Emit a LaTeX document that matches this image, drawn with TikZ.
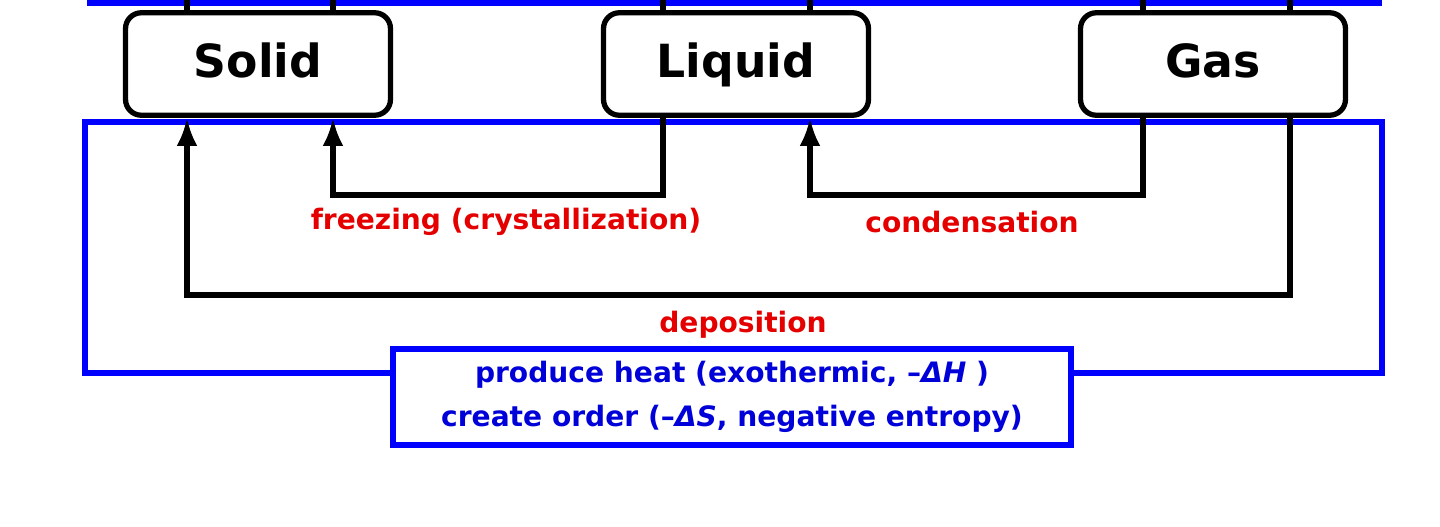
\documentclass[tikz,border=0pt]{standalone}
\usepackage{fontspec}
\setmainfont{DejaVu Sans}
\tikzset{
  phase/.style={draw, line width=3pt, rounded corners=9pt, minimum width=5.3cm, minimum height=2.05cm, text height=0.55cm, text depth=0.0cm, font=\bfseries\fontsize{26}{30}\selectfont},
  flow/.style={line width=3pt, -{Latex[length=16pt,width=12pt]}},
  lbl/.style={text=red!90!black, font=\bfseries\fontsize{16}{18}\selectfont},
  frame/.style={draw=blue, line width=3pt}
}
\usetikzlibrary{arrows.meta}
\begin{document}
\begin{tikzpicture}[x=0.02cm,y=-0.02cm]
  \useasboundingbox (0,0) rectangle (1440,527);
  % cut-off upper frame
  \draw[frame] (87,3) -- (1382,3);
  \foreach \x in {187,333,663,810,1143,1290}
    \draw[line width=3pt] (\x,14) -- (\x,0);
  % phases
  \node[phase] (solid) at (258,64) {Solid};
  \node[phase] (liquid) at (736,64) {Liquid};
  \node[phase] (gas) at (1213,64) {Gas};
  % lower frame
  \draw[frame] (85,122) rectangle (1382,373);
  % transitions
  \coordinate (f1) at (663,195);
  \coordinate (f2) at (333,195);
  \draw[flow] (liquid.south -| f1) -- (f1) -- (f2) -- (solid.south -| f2);
  \coordinate (c1) at (1143,195);
  \coordinate (c2) at (810,195);
  \draw[flow] (gas.south -| c1) -- (c1) -- (c2) -- (liquid.south -| c2);
  \coordinate (d1) at (1290,295);
  \coordinate (d2) at (187,295);
  \draw[flow] (gas.south -| d1) -- (d1) -- (d2) -- (solid.south -| d2);
  \node[lbl] (freeze) at (506,222) {freezing (crystallization)};
  \node[lbl] (cond) at (972,222) {condensation};
  \node[lbl] (depo) at (743,325) {deposition};
  % summary
  \node[frame, fill=white, minimum width=13.56cm, minimum height=1.92cm, align=center,
        text=blue!85!black, font=\bfseries\fontsize{16}{19}\selectfont] (sum) at (732,397)
    {produce heat (exothermic, --\textit{ΔH} )\\[6pt] create order (--\textit{ΔS}, negative entropy)};
\end{tikzpicture}
\end{document}
